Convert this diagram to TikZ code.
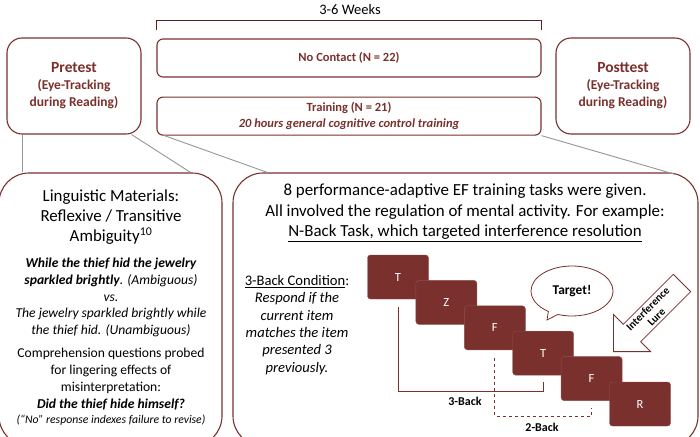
\documentclass[tikz,border=0pt]{standalone}
\usepackage{fontspec}
\setmainfont{Carlito}
\usepackage{tikz}
\usetikzlibrary{positioning,calc,shapes.callouts,shapes.arrows}
\definecolor{brickred}{RGB}{122,48,44}
\definecolor{linkgray}{RGB}{150,150,150}

\begin{document}
\begin{tikzpicture}[
    x=1pt,y=-1pt,
    stage/.style={draw=brickred,line width=1.1pt,rounded corners=15pt,
                  minimum width=134pt,minimum height=96pt,text=brickred,
                  font=\bfseries\fontsize{13.5}{17}\selectfont,align=center},
    arm/.style={draw=brickred,line width=1.1pt,rounded corners=6pt,
                minimum width=384pt,minimum height=38pt,text=brickred,
                font=\bfseries\fontsize{12.5}{16}\selectfont,align=center},
    panel/.style={draw=brickred,line width=1.1pt,rounded corners=30pt,
                  minimum height=273pt},
    card/.style={draw=brickred!85!white,fill=brickred,rounded corners=3pt,
                 minimum width=61pt,minimum height=44pt,text=white,
                 font=\fontsize{12.5}{14}\selectfont},
    zoomline/.style={linkgray,line width=0.9pt},
    backline/.style={brickred,line width=1pt},
    blbl/.style={font=\bfseries\fontsize{12}{14}\selectfont},
  ]
  \clip (0,0) rectangle (700,436);
  \node[stage](pre) at (74,86){{\fontsize{15.5}{19}\selectfont Pretest}\\(Eye-Tracking\\during Reading)};
  \node[stage](post) at (623,86){{\fontsize{15.5}{19}\selectfont Posttest}\\(Eye-Tracking\\during Reading)};
  \node[arm](noc) at (349,58){No Contact (N = 22)};
  \node[arm,below=19pt of noc](trn){Training (N = 21)\\\textit{20 hours general cognitive control training}};
  \draw[backline,brickred!70!black] ([yshift=8pt]noc.north west) -- ++(0,-10) -| ([yshift=8pt]noc.north east);
  \node[font=\fontsize{14.5}{16}\selectfont](weeks) at (350,10){3-6 Weeks};

  \node[panel,minimum width=223pt](ling) at (110.5,309.5){};
  \node[panel,minimum width=465pt](task) at (465.5,309.5){};
  \draw[zoomline]([xshift=16pt]pre.south west) -- ([xshift=24pt]ling.north west);
  \draw[zoomline]([xshift=-10pt]pre.south east) -- ([xshift=-32pt]ling.north east);
  \draw[zoomline]([xshift=8pt]trn.south west) -- ([xshift=35pt]task.north west);
  \draw[zoomline](trn.south east) -- ([xshift=-23pt,yshift=-2pt]task.north east);

  \node[font=\fontsize{16.9}{20}\selectfont,align=center](lingtitle) at (111,217)
    {Linguistic Materials:\\Reflexive / Transitive\\Ambiguity\textsuperscript{10}};
  \node[font=\itshape\fontsize{13.6}{16.7}\selectfont,align=center](sentences) at (111,297.5)
    {{\bfseries While the thief hid the jewelry}\\{\bfseries sparkled brightly}. (Ambiguous)\\vs.\\The jewelry sparkled brightly while\\the thief hid. (Unambiguous)};
  \node[font=\fontsize{13.6}{17}\selectfont,align=center](probe) at (111,379.5)
    {Comprehension questions probed\\for lingering effects of\\misinterpretation:\\{\bfseries\itshape Did the thief hide himself?}};
  \node[font=\itshape\fontsize{11.7}{13}\selectfont](revise) at (111,420)
    {(“No” response indexes failure to revise)};

  \node[font=\fontsize{16.9}{20.5}\selectfont,align=center](tasktxt) at (465,213)
    {8 performance-adaptive EF training tasks were given.\\All involved the regulation of mental activity. For example:\\\underline{N-Back Task, which targeted interference resolution}};
  \node[font=\fontsize{14.6}{17.4}\selectfont,align=center](cond) at (297,325)
    {\underline{3-Back Condition}:\\\textit{Respond if the}\\\textit{current item}\\\textit{matches the item}\\\textit{presented 3}\\\textit{previously.}};

  \node[card](c1) at (398,277){T};
  \node[card,below right=-19pt and -13pt of c1](c2){Z};
  \node[card,below right=-19pt and -13pt of c2](c3){F};
  \node[card,below right=-19pt and -13pt of c3](c4){T};
  \node[card,below right=-19pt and -13pt of c4](c5){F};
  \node[card,below right=-19pt and -13pt of c5](c6){R};
  \draw[backline]([yshift=-8pt]c1.south) -- ++(0,84) -| ([yshift=-7pt]c4.south);
  \node[blbl](back3) at (465,401){3-Back};
  \draw[backline,dashed]([yshift=-8pt]c3.south) -- ++(0,58) -| ([yshift=-7pt]c5.south);
  \node[blbl](back2) at (542,427){2-Back};

  \node[ellipse callout,draw=brickred,fill=white,line width=0.8pt,minimum width=82pt,
        minimum height=50pt,callout absolute pointer={(547,320)},
        font=\bfseries\fontsize{13.4}{15}\selectfont](tgt) at (572,291){Target!};
  \node[single arrow,draw=brickred,fill=white,line width=0.8pt,shape border rotate=180,
        rotate=45,minimum height=97pt,single arrow head extend=14pt,inner sep=2pt,
        anchor=tip,align=center,font=\bfseries\fontsize{11}{12}\selectfont](lure) at (613,352){Interference\\Lure};
\end{tikzpicture}
\end{document}
